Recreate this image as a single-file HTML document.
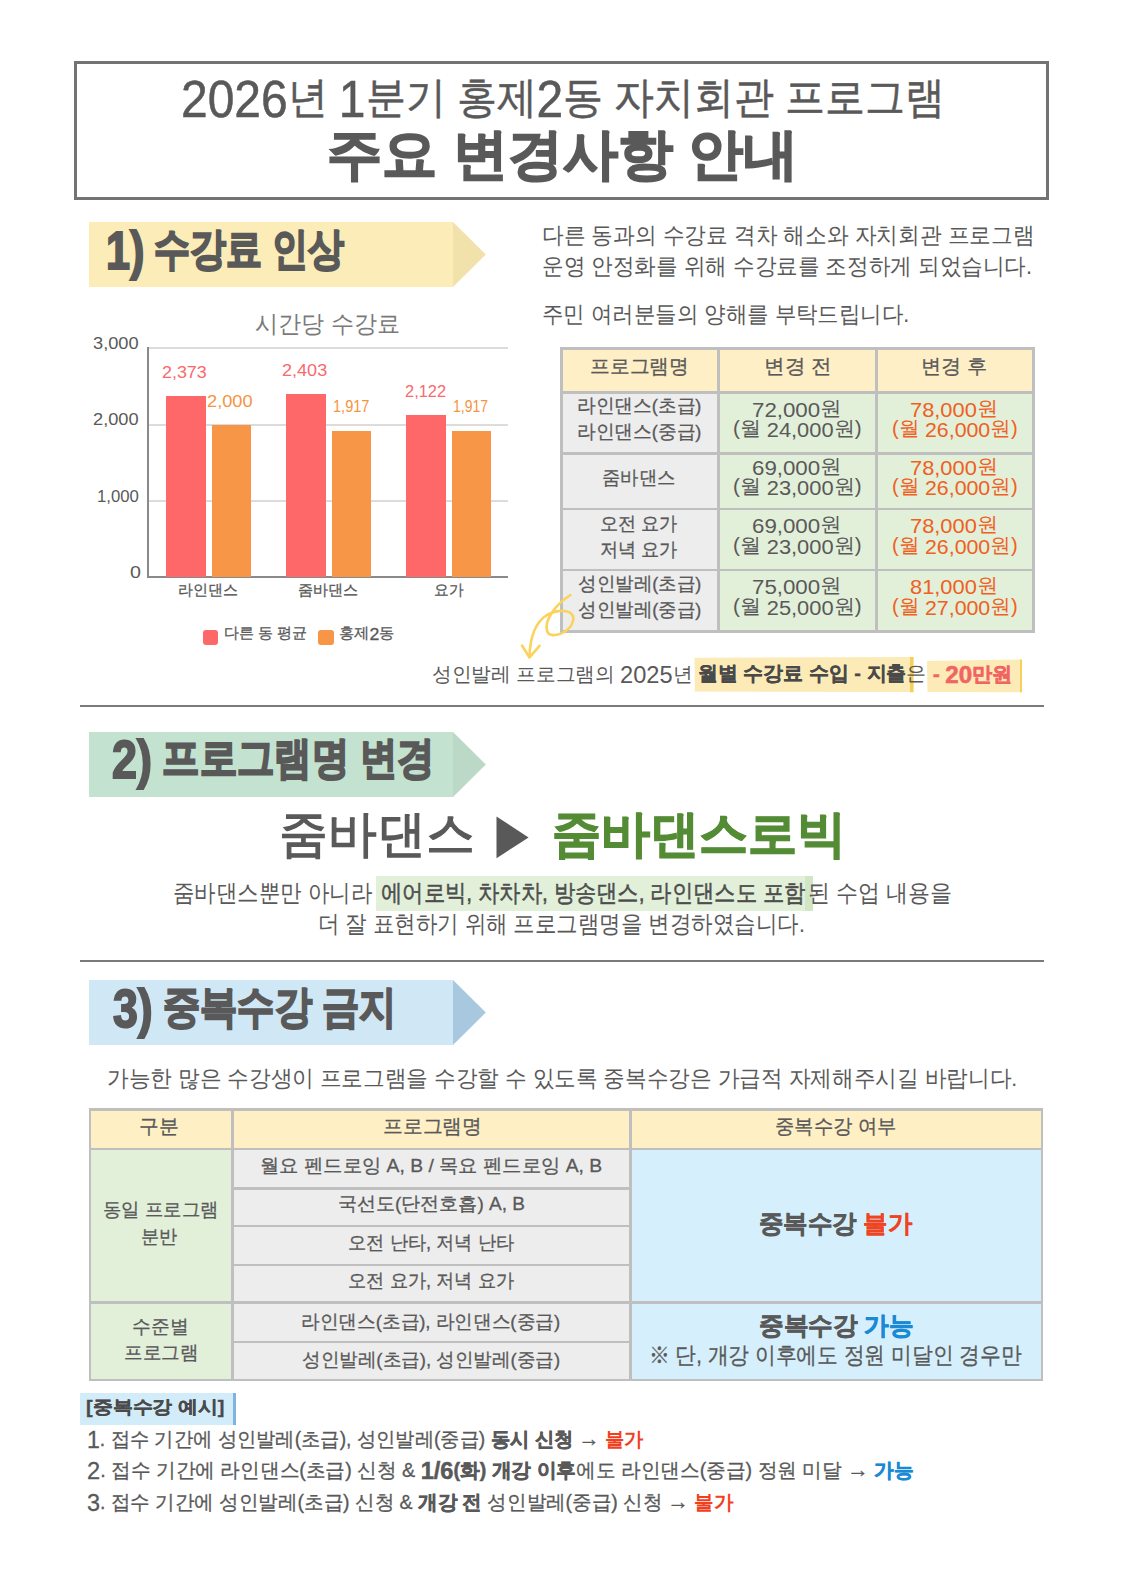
<!DOCTYPE html>
<html><head><meta charset="utf-8"><title>홍제2동 자치회관 프로그램 변경 안내</title><style>
html,body{margin:0;padding:0;background:#fff}
body{width:1123px;height:1587px;position:relative;overflow:hidden;font-family:"Liberation Sans",sans-serif;color:#595959}
.a{position:absolute}
.t{position:absolute;white-space:nowrap;line-height:1;transform-origin:0 0}
.n{font-size:1.2em;vertical-align:-0.1em}
b{-webkit-text-stroke:0.5px}
.ar{font-size:1.1em}
</style></head><body>
<div class="a" style="left:74px;top:61px;width:975px;height:139px;border:3px solid #737373;box-sizing:border-box"></div>
<div class="a" style="left:89px;top:222px;width:364px;height:65px;background:#FCECB8;"></div>
<svg class="a" style="left:453px;top:222px" width="33" height="65"><polygon points="0,0 32.8,32.5 0,65" fill="#F1E2AB"/></svg>
<div class="a" style="left:89px;top:732px;width:364px;height:65px;background:#C3E2D0;"></div>
<svg class="a" style="left:453px;top:732px" width="33" height="65"><polygon points="0,0 32.8,32.5 0,65" fill="#BBD9C6"/></svg>
<div class="a" style="left:89px;top:980px;width:364px;height:65px;background:#D0E8F6;"></div>
<svg class="a" style="left:453px;top:980px" width="33" height="65"><polygon points="0,0 32.8,32.5 0,65" fill="#A8C8E0"/></svg>
<div class="a" style="left:80px;top:704.5px;width:964px;height:2.5px;background:#7a7a7a;"></div>
<div class="a" style="left:80px;top:959.5px;width:964px;height:2.5px;background:#7a7a7a;"></div>
<div class="a" style="left:149px;top:347px;width:359px;height:2px;background:#DCDCDC;"></div>
<div class="a" style="left:149px;top:423.7px;width:359px;height:2px;background:#DCDCDC;"></div>
<div class="a" style="left:149px;top:500.3px;width:359px;height:2px;background:#DCDCDC;"></div>
<div class="a" style="left:147.2px;top:347px;width:2px;height:231px;background:#8a8a8a;"></div>
<div class="a" style="left:147.2px;top:576px;width:361px;height:2px;background:#8a8a8a;"></div>
<div class="a" style="left:166px;top:395.991px;width:39.5px;height:181.009px;background:#FF6868;"></div>
<div class="a" style="left:211.5px;top:424.6px;width:39.5px;height:152.4px;background:#F79646;"></div>
<div class="a" style="left:286px;top:393.69px;width:39.5px;height:183.31px;background:#FF6868;"></div>
<div class="a" style="left:331.5px;top:430.966px;width:39.5px;height:146.034px;background:#F79646;"></div>
<div class="a" style="left:406px;top:415.243px;width:39.5px;height:161.757px;background:#FF6868;"></div>
<div class="a" style="left:451.5px;top:430.966px;width:39.5px;height:146.034px;background:#F79646;"></div>
<div class="a" style="left:203.2px;top:630px;width:15.2px;height:15px;background:#FF6868;border-radius:3px"></div>
<div class="a" style="left:318.3px;top:630px;width:15.5px;height:15px;background:#F79646;border-radius:3px"></div>
<div class="a" style="left:560px;top:347px;width:475px;height:285.5px;background:#EDEDED;"></div>
<div class="a" style="left:560px;top:347px;width:475px;height:45px;background:#FFEFC6;"></div>
<div class="a" style="left:718px;top:392px;width:316px;height:240px;background:#E2EFD9;"></div>
<div class="a" style="left:560px;top:347px;width:475px;height:2.7px;background:#BFBFBF;"></div>
<div class="a" style="left:560px;top:391px;width:475px;height:2.7px;background:#BFBFBF;"></div>
<div class="a" style="left:560px;top:452px;width:475px;height:2.7px;background:#BFBFBF;"></div>
<div class="a" style="left:560px;top:507.5px;width:475px;height:2.7px;background:#BFBFBF;"></div>
<div class="a" style="left:560px;top:568.7px;width:475px;height:2.7px;background:#BFBFBF;"></div>
<div class="a" style="left:560px;top:630px;width:475px;height:2.7px;background:#BFBFBF;"></div>
<div class="a" style="left:560px;top:347px;width:3px;height:285.7px;background:#BFBFBF;"></div>
<div class="a" style="left:717px;top:347px;width:3px;height:285.7px;background:#BFBFBF;"></div>
<div class="a" style="left:875px;top:347px;width:3px;height:285.7px;background:#BFBFBF;"></div>
<div class="a" style="left:1032px;top:347px;width:3px;height:285.7px;background:#BFBFBF;"></div>
<svg class="a" style="left:0;top:0" width="1123" height="1587"><polygon points="694.5,657.8 910,657 910,692 694.8,691.5" fill="#FCEBB6"/><rect x="910" y="657" width="3.6" height="35.3" fill="#F7CF5C"/><polygon points="927,661 1020,659.4 1020,692.3 927.5,692" fill="#FCEBB6"/><rect x="1020" y="659.4" width="2" height="33" fill="#F7CF5C"/><path d="M570.5,595 C556,604 544,620 547,631 C550,640 570,633 573,621 C576,610 560,608 547,615 C534,623 530,640 529.5,656.5" fill="none" stroke="#FBD35A" stroke-width="2.6" stroke-linecap="round"/><path d="M522,645.5 L529.5,657.5 L539.5,645.8" fill="none" stroke="#FBD35A" stroke-width="2.6" stroke-linecap="round" stroke-linejoin="round"/><polygon points="496.5,816.6 528.6,837.4 496.5,858.2" fill="#595959"/></svg>
<div class="a" style="left:375.5px;top:876px;width:429px;height:35px;background:#E2F0D9;"></div>
<div class="a" style="left:804.5px;top:876px;width:8.5px;height:35px;background:#D2E5C5;"></div>
<div class="a" style="left:88.5px;top:1108px;width:554.5px;height:273.4px;background:#EDEDED;"></div>
<div class="a" style="left:88.5px;top:1108px;width:954.5px;height:41px;background:#FFEFC5;"></div>
<div class="a" style="left:90px;top:1149px;width:143px;height:231px;background:#E2EFD9;"></div>
<div class="a" style="left:630px;top:1149px;width:412px;height:231px;background:#D5F0FC;"></div>
<div class="a" style="left:88.5px;top:1108px;width:954.5px;height:2.6px;background:#BFBFBF;"></div>
<div class="a" style="left:88.5px;top:1147.8px;width:954.5px;height:2.6px;background:#BFBFBF;"></div>
<div class="a" style="left:88.5px;top:1301.3px;width:954.5px;height:2.6px;background:#BFBFBF;"></div>
<div class="a" style="left:88.5px;top:1378.8px;width:954.5px;height:2.6px;background:#BFBFBF;"></div>
<div class="a" style="left:233px;top:1187.3px;width:398px;height:2.6px;background:#BFBFBF;"></div>
<div class="a" style="left:233px;top:1224.8px;width:398px;height:2.6px;background:#BFBFBF;"></div>
<div class="a" style="left:233px;top:1263.9px;width:398px;height:2.6px;background:#BFBFBF;"></div>
<div class="a" style="left:233px;top:1340.5px;width:398px;height:2.6px;background:#BFBFBF;"></div>
<div class="a" style="left:88.5px;top:1108px;width:2.6px;height:273.4px;background:#BFBFBF;"></div>
<div class="a" style="left:231px;top:1108px;width:2.6px;height:273.4px;background:#BFBFBF;"></div>
<div class="a" style="left:629.2px;top:1108px;width:2.6px;height:273.4px;background:#BFBFBF;"></div>
<div class="a" style="left:1040.5px;top:1108px;width:2.6px;height:273.4px;background:#BFBFBF;"></div>
<div class="a" style="left:79.5px;top:1393px;width:153.5px;height:32px;background:#D2ECFA;"></div>
<div class="a" style="left:232.8px;top:1393px;width:3.4px;height:32px;background:#7FB4DF;"></div>
<div class="t" style="left:181.1px;top:73.5px;font-size:43px;transform:scaleX(0.93);color:#595959;-webkit-text-stroke:0.5px #595959;"><span class="n">2026</span>년 <span class="n">1</span>분기 홍제<span class="n">2</span>동 자치회관 프로그램</div>
<div class="t" style="left:327px;top:127px;font-size:55px;transform:scaleX(1.0022);color:#595959;-webkit-text-stroke:1.6px #595959;font-weight:bold;">주요 변경사항 안내</div>
<div class="t" style="left:106.4px;top:225px;font-size:44px;transform:scaleX(0.8172);color:#595959;font-weight:bold;-webkit-text-stroke:2px #595959;"><span class="n">1)</span> 수강료 인상</div>
<div class="t" style="left:112.2px;top:734px;font-size:44px;transform:scaleX(0.8499);color:#595959;font-weight:bold;-webkit-text-stroke:2px #595959;"><span class="n">2)</span> 프로그램명 변경</div>
<div class="t" style="left:113px;top:983px;font-size:44px;transform:scaleX(0.8455);color:#595959;font-weight:bold;-webkit-text-stroke:2px #595959;"><span class="n">3)</span> 중복수강 금지</div>
<div class="t" style="left:542.1px;top:223.8px;font-size:23px;transform:scaleX(0.9448);color:#595959;">다른 동과의 수강료 격차 해소와 자치회관 프로그램</div>
<div class="t" style="left:542.1px;top:254.5px;font-size:23px;transform:scaleX(0.94);color:#595959;">운영 안정화를 위해 수강료를 조정하게 되었습니다.</div>
<div class="t" style="left:542.1px;top:303.1px;font-size:23px;transform:scaleX(0.9333);color:#595959;">주민 여러분들의 양해를 부탁드립니다.</div>
<div class="t" style="left:255px;top:311.8px;font-size:24px;transform:scaleX(0.9642);color:#7a7a7a;">시간당 수강료</div>
<div class="t" style="left:178.2px;top:582.3px;font-size:15px;transform:scaleX(0.9966);color:#595959;-webkit-text-stroke:0.3px #595959;">라인댄스</div>
<div class="t" style="left:298px;top:581.8px;font-size:15px;transform:scaleX(1.0052);color:#595959;-webkit-text-stroke:0.3px #595959;">줌바댄스</div>
<div class="t" style="left:433.5px;top:582.3px;font-size:15px;transform:scaleX(0.9828);color:#595959;-webkit-text-stroke:0.3px #595959;">요가</div>
<div class="t" style="left:223.6px;top:625.6px;font-size:14.5px;transform:scaleX(1);color:#595959;-webkit-text-stroke:0.3px #595959;">다른 동 평균</div>
<div class="t" style="left:338.5px;top:625.6px;font-size:14.5px;transform:scaleX(1.0189);color:#595959;-webkit-text-stroke:0.3px #595959;">홍제<span class="n">2</span>동</div>
<div class="t" style="left:590.3px;top:357.3px;font-size:19.5px;transform:scaleX(0.9885);color:#595959;-webkit-text-stroke:0.3px #595959;">프로그램명</div>
<div class="t" style="left:763.6px;top:357px;font-size:19.5px;transform:scaleX(1.0279);color:#595959;-webkit-text-stroke:0.3px #595959;">변경 전</div>
<div class="t" style="left:921px;top:357px;font-size:19.5px;transform:scaleX(1.0065);color:#595959;-webkit-text-stroke:0.3px #595959;">변경 후</div>
<div class="t" style="left:576.5px;top:396.6px;font-size:18.5px;transform:scaleX(0.9839);color:#595959;-webkit-text-stroke:0.3px #595959;">라인댄스(초급)</div>
<div class="t" style="left:576.5px;top:422.6px;font-size:18.5px;transform:scaleX(0.9839);color:#595959;-webkit-text-stroke:0.3px #595959;">라인댄스(중급)</div>
<div class="t" style="left:577.5px;top:575.4px;font-size:18.5px;transform:scaleX(0.976);color:#595959;-webkit-text-stroke:0.3px #595959;">성인발레(초급)</div>
<div class="t" style="left:577.5px;top:601px;font-size:18.5px;transform:scaleX(0.976);color:#595959;-webkit-text-stroke:0.3px #595959;">성인발레(중급)</div>
<div class="t" style="left:602.4px;top:469.1px;font-size:18.5px;transform:scaleX(0.9635);color:#595959;-webkit-text-stroke:0.3px #595959;">줌바댄스</div>
<div class="t" style="left:599.8px;top:514.9px;font-size:18.5px;transform:scaleX(0.9563);color:#595959;-webkit-text-stroke:0.3px #595959;">오전 요가</div>
<div class="t" style="left:599.8px;top:540.7px;font-size:18.5px;transform:scaleX(0.9563);color:#595959;-webkit-text-stroke:0.3px #595959;">저녁 요가</div>
<div class="t" style="left:752.3px;top:399.1px;font-size:19.5px;transform:scaleX(1.0788);color:#595959;"><span class="n" style="font-size:1.06em">72,000</span>원</div>
<div class="t" style="left:733.3px;top:419.3px;font-size:19.5px;transform:scaleX(1.0571);color:#595959;">(월 <span class="n" style="font-size:1.06em">24,000</span>원)</div>
<div class="t" style="left:910.3px;top:399.1px;font-size:19.5px;transform:scaleX(1.0575);color:#F0601E;"><span class="n" style="font-size:1.06em">78,000</span>원</div>
<div class="t" style="left:891.7px;top:419.3px;font-size:19.5px;transform:scaleX(1.0328);color:#F0601E;">(월 <span class="n" style="font-size:1.06em">26,000</span>원)</div>
<div class="t" style="left:752.3px;top:456.9px;font-size:19.5px;transform:scaleX(1.0788);color:#595959;"><span class="n" style="font-size:1.06em">69,000</span>원</div>
<div class="t" style="left:733.3px;top:477px;font-size:19.5px;transform:scaleX(1.0571);color:#595959;">(월 <span class="n" style="font-size:1.06em">23,000</span>원)</div>
<div class="t" style="left:910.3px;top:456.9px;font-size:19.5px;transform:scaleX(1.0575);color:#F0601E;"><span class="n" style="font-size:1.06em">78,000</span>원</div>
<div class="t" style="left:891.7px;top:477px;font-size:19.5px;transform:scaleX(1.0328);color:#F0601E;">(월 <span class="n" style="font-size:1.06em">26,000</span>원)</div>
<div class="t" style="left:752.3px;top:515px;font-size:19.5px;transform:scaleX(1.0788);color:#595959;"><span class="n" style="font-size:1.06em">69,000</span>원</div>
<div class="t" style="left:733.3px;top:536px;font-size:19.5px;transform:scaleX(1.0571);color:#595959;">(월 <span class="n" style="font-size:1.06em">23,000</span>원)</div>
<div class="t" style="left:910.3px;top:515px;font-size:19.5px;transform:scaleX(1.0575);color:#F0601E;"><span class="n" style="font-size:1.06em">78,000</span>원</div>
<div class="t" style="left:891.7px;top:536px;font-size:19.5px;transform:scaleX(1.0328);color:#F0601E;">(월 <span class="n" style="font-size:1.06em">26,000</span>원)</div>
<div class="t" style="left:752.3px;top:576.2px;font-size:19.5px;transform:scaleX(1.0788);color:#595959;"><span class="n" style="font-size:1.06em">75,000</span>원</div>
<div class="t" style="left:733.3px;top:597.4px;font-size:19.5px;transform:scaleX(1.0571);color:#595959;">(월 <span class="n" style="font-size:1.06em">25,000</span>원)</div>
<div class="t" style="left:910.3px;top:576.2px;font-size:19.5px;transform:scaleX(1.0575);color:#F0601E;"><span class="n" style="font-size:1.06em">81,000</span>원</div>
<div class="t" style="left:891.7px;top:597.4px;font-size:19.5px;transform:scaleX(1.0328);color:#F0601E;">(월 <span class="n" style="font-size:1.06em">27,000</span>원)</div>
<div class="t" style="left:432.4px;top:662.7px;font-size:20px;transform:scaleX(0.9839);color:#595959;">성인발레 프로그램의 <span class="n">2025</span>년</div>
<div class="t" style="left:698px;top:663.2px;font-size:20px;transform:scaleX(0.9978);color:#4a4a4a;-webkit-text-stroke:0.3px #4a4a4a;font-weight:bold;">월별 수강료 수입 - 지출<span style="font-weight:normal;-webkit-text-stroke:0;color:#595959">은</span></div>
<div class="t" style="left:932.5px;top:662.8px;font-size:20px;transform:scaleX(1.0064);color:#F26464;-webkit-text-stroke:0.6px #F26464;font-weight:bold;">- <span class="n">20</span>만원</div>
<div class="t" style="left:279.1px;top:809.1px;font-size:50px;transform:scaleX(0.9778);color:#595959;-webkit-text-stroke:1.3px #595959;">줌바댄스</div>
<div class="t" style="left:552.2px;top:809.3px;font-size:50px;transform:scaleX(0.9812);color:#548B35;-webkit-text-stroke:1.2px #548B35;font-weight:bold;">줌바댄스로빅</div>
<div class="t" style="left:172.6px;top:882px;font-size:23.5px;transform:scaleX(0.8941);color:#595959;">줌바댄스뿐만 아니라</div>
<div class="t" style="left:380.8px;top:882px;font-size:23.5px;transform:scaleX(0.8887);color:#4d4d4d;-webkit-text-stroke:0.5px #4d4d4d;">에어로빅, 차차차, 방송댄스, 라인댄스도 포함</div>
<div class="t" style="left:807.5px;top:882px;font-size:23.5px;transform:scaleX(0.9163);color:#595959;">된 수업 내용을</div>
<div class="t" style="left:318.2px;top:913.2px;font-size:23.5px;transform:scaleX(0.8961);color:#595959;">더 잘 표현하기 위해 프로그램명을 변경하였습니다.</div>
<div class="t" style="left:106.5px;top:1068px;font-size:22.5px;transform:scaleX(0.9424);color:#595959;">가능한 많은 수강생이 프로그램을 수강할 수 있도록 중복수강은 가급적 자제해주시길 바랍니다.</div>
<div class="t" style="left:139.4px;top:1115.7px;font-size:20px;transform:scaleX(0.9892);color:#595959;-webkit-text-stroke:0.3px #595959;">구분</div>
<div class="t" style="left:382.6px;top:1115.7px;font-size:20px;transform:scaleX(0.9885);color:#595959;-webkit-text-stroke:0.3px #595959;">프로그램명</div>
<div class="t" style="left:775px;top:1116.2px;font-size:20px;transform:scaleX(0.9661);color:#595959;-webkit-text-stroke:0.3px #595959;">중복수강 여부</div>
<div class="t" style="left:103px;top:1200.4px;font-size:19px;transform:scaleX(0.9672);color:#595959;-webkit-text-stroke:0.3px #595959;">동일 프로그램</div>
<div class="t" style="left:141.3px;top:1226.6px;font-size:19px;transform:scaleX(0.9541);color:#595959;-webkit-text-stroke:0.3px #595959;">분반</div>
<div class="t" style="left:259.7px;top:1156px;font-size:19px;transform:scaleX(1.0159);color:#595959;-webkit-text-stroke:0.3px #595959;">월요 펜드로잉 A, B / 목요 펜드로잉 A, B</div>
<div class="t" style="left:337.8px;top:1193.5px;font-size:19px;transform:scaleX(1.0011);color:#595959;-webkit-text-stroke:0.3px #595959;">국선도(단전호흡) A, B</div>
<div class="t" style="left:348px;top:1232.5px;font-size:19px;transform:scaleX(0.9593);color:#595959;-webkit-text-stroke:0.3px #595959;">오전 난타, 저녁 난타</div>
<div class="t" style="left:348px;top:1270.8px;font-size:19px;transform:scaleX(0.9593);color:#595959;-webkit-text-stroke:0.3px #595959;">오전 요가, 저녁 요가</div>
<div class="t" style="left:301.4px;top:1311.5px;font-size:19px;transform:scaleX(0.982);color:#595959;-webkit-text-stroke:0.3px #595959;">라인댄스(초급), 라인댄스(중급)</div>
<div class="t" style="left:302.4px;top:1349.5px;font-size:19px;transform:scaleX(0.9782);color:#595959;-webkit-text-stroke:0.3px #595959;">성인발레(초급), 성인발레(중급)</div>
<div class="t" style="left:132.4px;top:1316.6px;font-size:19px;transform:scaleX(0.9907);color:#595959;-webkit-text-stroke:0.3px #595959;">수준별</div>
<div class="t" style="left:123.5px;top:1342.9px;font-size:19px;transform:scaleX(0.9767);color:#595959;-webkit-text-stroke:0.3px #595959;">프로그램</div>
<div class="t" style="left:758.8px;top:1210.5px;font-size:25px;transform:scaleX(0.9769);color:#595959;-webkit-text-stroke:0.7px;font-weight:bold;">중복수강 <span style="color:#EE4422;-webkit-text-stroke:0.2px #EE4422">불가</span></div>
<div class="t" style="left:758.8px;top:1313.2px;font-size:25px;transform:scaleX(0.9832);color:#595959;-webkit-text-stroke:0.7px;font-weight:bold;">중복수강 <span style="color:#1A8AD4;-webkit-text-stroke-color:#1A8AD4">가능</span></div>
<div class="t" style="left:648.5px;top:1345px;font-size:22.5px;transform:scaleX(0.9044);color:#595959;-webkit-text-stroke:0.3px #595959;">※ 단, 개강 이후에도 정원 미달인 경우만</div>
<div class="t" style="left:86.4px;top:1397.7px;font-size:18px;transform:scaleX(1.1073);color:#4a4a4a;-webkit-text-stroke:0.3px #4a4a4a;font-weight:bold;">[중복수강 예시]</div>
<div class="t" style="left:86.5px;top:1428px;font-size:20px;transform:scaleX(0.9635);color:#595959;-webkit-text-stroke:0.3px #595959;"><span class="n">1</span>. 접수 기간에 성인발레(초급), 성인발레(중급) <b>동시 신청</b> <span class="ar">→</span> <b style="color:#F2401E;-webkit-text-stroke:0">불가</b></div>
<div class="t" style="left:87.4px;top:1459px;font-size:20px;transform:scaleX(0.9845);color:#595959;-webkit-text-stroke:0.3px #595959;"><span class="n">2</span>. 접수 기간에 라인댄스(초급) 신청 &amp; <b><span class="n">1/6</span>(화) 개강 이후</b>에도 라인댄스(중급) 정원 미달 <span class="ar">→</span> <b style="color:#1A8AD4">가능</b></div>
<div class="t" style="left:87.4px;top:1491px;font-size:20px;transform:scaleX(0.9766);color:#595959;-webkit-text-stroke:0.3px #595959;"><span class="n">3</span>. 접수 기간에 성인발레(초급) 신청 &amp; <b>개강 전</b> 성인발레(중급) 신청 <span class="ar">→</span> <b style="color:#F2401E;-webkit-text-stroke:0">불가</b></div>
<div class="t" style="left:92.9px;top:335.7px;font-size:16px;transform:scaleX(1.1385);color:#595959;">3,000</div>
<div class="t" style="left:92.9px;top:411.8px;font-size:16px;transform:scaleX(1.1385);color:#595959;">2,000</div>
<div class="t" style="left:96.6px;top:488.5px;font-size:16px;transform:scaleX(1.0462);color:#595959;">1,000</div>
<div class="t" style="left:129.8px;top:565.3px;font-size:16px;transform:scaleX(1.2286);color:#595959;">0</div>
<div class="t" style="left:162.3px;top:364.6px;font-size:16px;transform:scaleX(1.1179);color:#F86A6C;">2,373</div>
<div class="t" style="left:206.9px;top:393.5px;font-size:16px;transform:scaleX(1.1385);color:#F5943F;">2,000</div>
<div class="t" style="left:282.3px;top:362.6px;font-size:16px;transform:scaleX(1.1282);color:#F86A6C;">2,403</div>
<div class="t" style="left:332.5px;top:399.2px;font-size:16px;transform:scaleX(0.9105);color:#F5943F;">1,917</div>
<div class="t" style="left:404.8px;top:383.8px;font-size:16px;transform:scaleX(1.0263);color:#F86A6C;">2,122</div>
<div class="t" style="left:452.8px;top:399.2px;font-size:16px;transform:scaleX(0.8763);color:#F5943F;">1,917</div>
</body></html>
